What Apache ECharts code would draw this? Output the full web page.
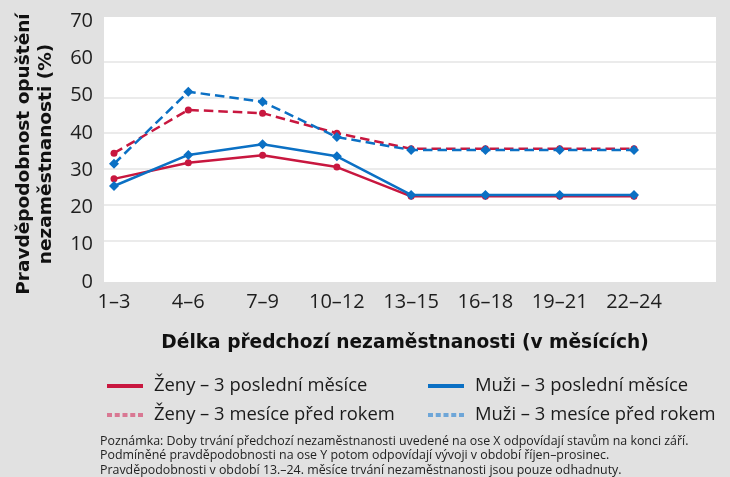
<!DOCTYPE html>
<html>
<head>
<meta charset="utf-8">
<script src="https://cdn.jsdelivr.net/npm/echarts@6.0.0/dist/echarts.min.js"></script>
<style>
  html, body { margin: 0; padding: 0; background: #e1e1e1; }
  #chart { width: 730px; height: 477px; }
</style>
</head>
<body>
<div id="chart"></div>
<script>
// délka předchozí nezaměstnanosti (měsíce)
const categories = ['1–3', '4–6', '7–9', '10–12', '13–15', '16–18', '19–21', '22–24'];

// pravděpodobnost opuštění nezaměstnanosti (%)
const zenyPosledni = [27.2, 31.7, 33.8, 30.5, 22.3, 22.3, 22.3, 22.3];
const muziPosledni = [25.2, 33.9, 36.9, 33.5, 22.7, 22.7, 22.7, 22.7];
const zenyPredRokem = [34.4, 46.5, 45.6, 40.0, 35.6, 35.6, 35.6, 35.6];
const muziPredRokem = [31.4, 51.6, 48.8, 38.9, 35.3, 35.3, 35.3, 35.3];

const yMin = 0;
const yMax = 70;
const yStep = 10;

const RED = '#c8173f';
const BLUE = '#0b70c4';
const RED_LIGHT = '#d97893';
const BLUE_LIGHT = '#6ea6d8';
const dotIcon = 'path://M0,0h5v4h-5zM7.75,0h5v4h-5zM15.5,0h5v4h-5zM23.25,0h5v4h-5zM31,0h5v4h-5z';

const names = [
  'Ženy – 3 poslední měsíce',
  'Ženy – 3 mesíce před rokem',
  'Muži – 3 poslední měsíce',
  'Muži – 3 mesíce před rokem',
];

const myChart = echarts.init(document.getElementById('chart'));

const hiddenAxis = { show: false };
const legendText = { fontFamily: 'Open Sans', fontSize: 18.4, color: '#1a1a1a', lineHeight: 20, padding: [0, 0, 0, 6] };

const lineSeries = (name, data, color, dashed, symbol) => ({
  name,
  type: 'line',
  xAxisIndex: 2,
  yAxisIndex: 2,
  data,
  symbol,
  symbolSize: symbol === 'diamond' ? 10 : 7,
  lineStyle: { color, width: 2.5, type: dashed ? [9.5, 5] : 'solid' },
  itemStyle: { color, borderWidth: 0 },
  emphasis: { disabled: true },
  animation: false,
});

myChart.setOption({
  backgroundColor: '#e1e1e1',
  textStyle: { fontFamily: 'Open Sans' },
  grid: [
    // bílá plocha grafu
    { left: 104, right: 14, top: 17, bottom: 195, show: true, backgroundColor: '#ffffff', borderWidth: 0 },
    // vodorovné mřížky
    { left: 104, right: 14, top: 26, bottom: 201 },
    // data
    { left: 114, right: 96, top: 26, bottom: 201 },
    // popisky osy Y
    { left: 104, right: 14, top: 21, bottom: 195 },
  ],
  xAxis: [
    { gridIndex: 0, type: 'value', ...hiddenAxis },
    { gridIndex: 1, type: 'value', ...hiddenAxis },
    {
      gridIndex: 2,
      type: 'category',
      data: categories,
      boundaryGap: false,
      axisLine: { show: false },
      axisTick: { show: false },
      axisLabel: { margin: 16, fontSize: 20, color: '#1e1e1e', fontFamily: 'Open Sans' },
    },
    { gridIndex: 3, type: 'value', ...hiddenAxis },
  ],
  yAxis: [
    { gridIndex: 0, type: 'value', ...hiddenAxis },
    {
      gridIndex: 1,
      type: 'value',
      min: yMin,
      max: yMax,
      interval: yStep,
      axisLine: { show: false },
      axisTick: { show: false },
      axisLabel: { show: false },
      splitLine: { show: true, showMinLine: false, showMaxLine: false, lineStyle: { color: '#e4e4e4', width: 1.5 } },
    },
    { gridIndex: 2, type: 'value', min: yMin, max: yMax, ...hiddenAxis },
    {
      gridIndex: 3,
      type: 'value',
      min: yMin,
      max: yMax,
      interval: yStep,
      axisLine: { show: false },
      axisTick: { show: false },
      splitLine: { show: false },
      axisLabel: { margin: 11, fontSize: 20, color: '#1e1e1e', fontFamily: 'Open Sans' },
    },
  ],
  legend: [
    {
      left: 107,
      top: 376,
      padding: 0,
      orient: 'vertical',
      itemWidth: 36,
      itemHeight: 4,
      itemGap: 9,
      selectedMode: false,
      textStyle: legendText,
      data: [
        { name: names[0], icon: 'rect', itemStyle: { color: RED, borderWidth: 0 } },
        { name: names[1], icon: dotIcon, itemStyle: { color: RED_LIGHT, borderWidth: 0 } },
      ],
    },
    {
      left: 428,
      top: 376,
      padding: 0,
      orient: 'vertical',
      itemWidth: 36,
      itemHeight: 4,
      itemGap: 9,
      selectedMode: false,
      textStyle: legendText,
      data: [
        { name: names[2], icon: 'rect', itemStyle: { color: BLUE, borderWidth: 0 } },
        { name: names[3], icon: dotIcon, itemStyle: { color: BLUE_LIGHT, borderWidth: 0 } },
      ],
    },
  ],
  graphic: [
    {
      type: 'text',
      x: 35,
      y: 154,
      rotation: Math.PI / 2,
      style: {
        text: 'Pravděpodobnost opuštění\nnezaměstnanosti (%)',
        font: 'bold 18.5px "DejaVu Sans"',
        fill: '#111',
        textAlign: 'center',
        textVerticalAlign: 'middle',
        lineHeight: 22,
      },
    },
    {
      type: 'text',
      x: 405,
      y: 343,
      style: {
        text: 'Délka předchozí nezaměstnanosti (v měsících)',
        font: 'bold 18.6px "DejaVu Sans"',
        fill: '#111',
        textAlign: 'center',
        textVerticalAlign: 'middle',
      },
    },
    {
      type: 'text',
      left: 100,
      top: 434,
      style: {
        text: 'Poznámka: Doby trvání předchozí nezaměstnanosti uvedené na ose X odpovídají stavům na konci září.\n' +
          'Podmíněné pravděpodobnosti na ose Y potom odpovídají vývoji v období říjen–prosinec.\n' +
          'Pravděpodobnosti v období 13.–24. měsíce trvání nezaměstnanosti jsou pouze odhadnuty.',
        font: '12.4px "Open Sans"',
        fill: '#222',
        lineHeight: 14.5,
      },
    },
  ],
  series: [
    lineSeries(names[0], zenyPosledni, RED, false, 'circle'),
    lineSeries(names[1], zenyPredRokem, RED, true, 'circle'),
    lineSeries(names[2], muziPosledni, BLUE, false, 'diamond'),
    lineSeries(names[3], muziPredRokem, BLUE, true, 'diamond'),
  ],
});

window.addEventListener('resize', () => myChart.resize());
</script>
</body>
</html>
